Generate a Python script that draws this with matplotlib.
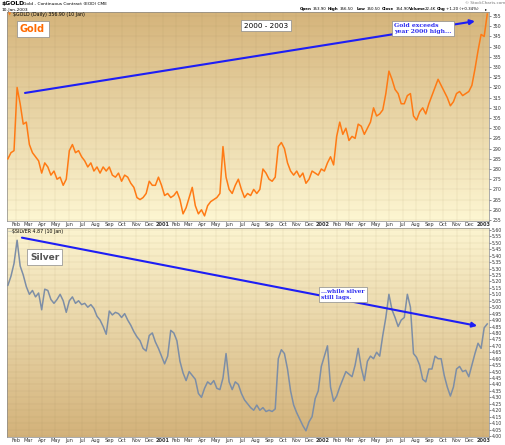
import numpy as np
import pandas as pd
import matplotlib
matplotlib.use('Agg')
import matplotlib.pyplot as plt
from matplotlib.colors import LinearSegmentedColormap

# weekly closes (Fridays, 14 Jan 2000 .. 10 Jan 2003)
weeks = pd.date_range('2000-01-14', '2003-01-10', freq='W-FRI')

gold = [285, 288, 289, 320, 312, 302, 303, 292, 288, 286,
        284, 278, 283, 281, 277, 279, 275, 276, 272, 275,
        289, 292, 288, 289, 286, 284, 281, 283, 279, 281,
        278, 281, 279, 281, 277, 276, 278, 274, 277, 276,
        273, 271, 266, 265, 266, 268, 274, 272, 272, 276,
        272, 267, 268, 266, 267, 269, 265, 258, 261, 266,
        271, 262, 258, 260, 257, 262, 264, 265, 266, 268,
        291, 276, 270, 268, 272, 275, 270, 266, 268, 267,
        270, 268, 270, 280, 278, 275, 274, 276, 291, 293,
        290, 283, 279, 277, 279, 276, 278, 273, 275, 279,
        278, 277, 280, 279, 283, 286, 282, 296, 303, 297,
        300, 294, 296, 295, 302, 301, 297, 300, 303, 310,
        306, 307, 309, 317, 328, 324, 319, 317, 312, 312,
        316, 317, 306, 304, 308, 310, 307, 312, 316, 320,
        324, 321, 318, 315, 311, 313, 317, 318, 316, 317,
        318, 321, 329, 338, 346, 345, 356]

silver = [5.17, 5.24, 5.34, 5.52, 5.32, 5.25, 5.16, 5.10, 5.13, 5.08,
          5.11, 4.98, 5.14, 5.13, 5.06, 5.03, 5.06, 5.10, 5.05, 4.96,
          5.05, 5.08, 5.03, 5.05, 5.02, 5.03, 5.00, 5.02, 4.99, 4.93,
          4.90, 4.85, 4.79, 4.97, 4.94, 4.96, 4.95, 4.92, 4.95, 4.90,
          4.86, 4.81, 4.77, 4.74, 4.68, 4.66, 4.78, 4.80, 4.73, 4.68,
          4.62, 4.56, 4.62, 4.82, 4.80, 4.74, 4.58, 4.49, 4.43, 4.50,
          4.47, 4.44, 4.33, 4.30, 4.37, 4.42, 4.40, 4.43, 4.37, 4.36,
          4.45, 4.64, 4.42, 4.36, 4.42, 4.40, 4.33, 4.28, 4.25, 4.22,
          4.20, 4.24, 4.20, 4.22, 4.19, 4.20, 4.19, 4.21, 4.60, 4.67,
          4.64, 4.52, 4.35, 4.24, 4.18, 4.13, 4.08, 4.04, 4.11, 4.15,
          4.29, 4.35, 4.54, 4.62, 4.70, 4.38, 4.27, 4.31, 4.38, 4.44,
          4.50, 4.48, 4.46, 4.55, 4.68, 4.53, 4.43, 4.58, 4.62, 4.60,
          4.65, 4.62, 4.78, 4.92, 5.10, 4.98, 4.92, 4.85, 4.90, 4.92,
          5.10, 5.00, 4.64, 4.61, 4.55, 4.44, 4.42, 4.52, 4.52, 4.62,
          4.60, 4.60, 4.47, 4.38, 4.31, 4.38, 4.52, 4.54, 4.50, 4.51,
          4.46, 4.55, 4.64, 4.72, 4.68, 4.84, 4.87]

assert len(gold) == len(weeks) == len(silver)

month_ticks = pd.date_range('2000-02-01', '2003-01-01', freq='MS')
month_labels = [str(d.year) if d.month == 1 else d.strftime('%b') for d in month_ticks]
gold_ticks = np.arange(255, 356, 5)
silver_ticks = np.arange(4.00, 5.601, 0.05)

W, H = 506, 445
fig = plt.figure(figsize=(W / 100, H / 100), dpi=100)
fig.patch.set_facecolor('white')


def fpos(x, y):
    return x / W, 1 - y / H


def shade(ax, top, bottom):
    grad = np.linspace(0, 1, 256).reshape(-1, 1)
    cmap = LinearSegmentedColormap.from_list('bg', [top, bottom])
    ax.imshow(grad, cmap=cmap, aspect='auto', extent=[0, 1, 0, 1],
              transform=ax.transAxes, zorder=0, interpolation='bilinear')


def style(ax, yticks, fmt):
    ax.set_xlim(pd.Timestamp('2000-01-12'), pd.Timestamp('2003-01-14'))
    ax.set_xticks(month_ticks, month_labels)
    for lbl, d in zip(ax.get_xticklabels(), month_ticks):
        if d.month == 1:
            lbl.set_fontweight('bold')
    ax.set_yticks(yticks, [fmt % v for v in yticks])
    ax.yaxis.tick_right()
    ax.tick_params(axis='x', length=0, pad=0.6, labelsize=3.6, colors='#333333')
    ax.tick_params(axis='y', length=1.5, width=0.4, pad=0.8, labelsize=3.3,
                   colors='#333333')
    ax.grid(color='#9c8458', alpha=0.22, lw=0.35)
    for s in ax.spines.values():
        s.set_color('#888888')
        s.set_linewidth(0.5)


# --- gold panel
ax1 = fig.add_axes([7 / W, 1 - 221 / H, 482 / W, 209 / H])
ax1.plot(weeks, gold, color='#ff7a14', lw=1.1, zorder=3)
shade(ax1, '#d5b47b', '#fdf6d2')
style(ax1, gold_ticks, '%d')
ax1.set_ylim(254.5, 357)
ax1.annotate('', xy=(pd.Timestamp('2002-12-13'), 352.5),
             xytext=(pd.Timestamp('2000-02-22'), 317.3),
             arrowprops=dict(arrowstyle='-|>', color='#1e1ef5', lw=1.5,
                             mutation_scale=7, shrinkA=0, shrinkB=0), zorder=4)

# --- silver panel
ax2 = fig.add_axes([7 / W, 1 - 437 / H, 482 / W, 209 / H])
ax2.plot(weeks, silver, color='#7d8ea6', lw=1.1, zorder=3)
shade(ax2, '#fcf4d0', '#d3b27a')
style(ax2, silver_ticks, '%.2f')
ax2.set_ylim(3.992, 5.615)
ax2.annotate('', xy=(pd.Timestamp('2002-12-18'), 4.855),
             xytext=(pd.Timestamp('2000-02-15'), 5.54),
             arrowprops=dict(arrowstyle='-|>', color='#1e1ef5', lw=1.5,
                             mutation_scale=7, shrinkA=0, shrinkB=0), zorder=4)

# --- header
fig.text(*fpos(2, 4), '$GOLD', fontsize=4.4, fontweight='bold', va='center')
fig.text(*fpos(23, 4), 'Gold - Continuous Contract (EOD) CME', fontsize=3.2, va='center')
fig.text(*fpos(2, 9.5), '10-Jan-2003', fontsize=3.2, va='center')
fig.text(*fpos(505, 3.5), '\u00a9 StockCharts.com', fontsize=3.0, va='center',
         ha='right', color='#777777')
quote = [(300, 'Open', True), (313, '353.90', False), (328, 'High', True),
         (340, '356.50', False), (357, 'Low', True), (367, '350.50', False),
         (382, 'Close', True), (396, '354.90', False), (409, 'Volume', True),
         (425, '22.4K', False), (437, 'Chg', True), (446, '+1.20 (+0.34%)', False)]
for x, s, b in quote:
    fig.text(*fpos(x, 9.3), s, fontsize=2.9, va='center',
             fontweight='bold' if b else 'normal')
fig.text(*fpos(485, 9.3), '\u25b8', fontsize=3.0, va='center')

fig.text(*fpos(8, 14.7), '\u25bc', fontsize=3, va='center', color='#ff7a14')
fig.text(*fpos(13, 14.7), '$GOLD (Daily) 356.90 (10 Jan)', fontsize=3.4, va='center')
fig.text(*fpos(8, 231.5), '\u2014', fontsize=3.4, va='center', color='#7d8ea6')
fig.text(*fpos(12, 231.5), '$SILVER 4.87 (10 Jan)', fontsize=3.4, va='center')

box = dict(boxstyle='square,pad=0.35', fc='white', ec='#8a8a8a', lw=0.5)
fig.text(*fpos(20, 29), 'Gold', fontsize=7, fontweight='bold', color='#ff6a00',
         va='center', bbox=box)
fig.text(*fpos(266, 25.5), '2000 - 2003', fontsize=5.2, ha='center', va='center',
         bbox=box)
fig.text(*fpos(394, 28.5), 'Gold exceeds\nyear 2000 high...', fontsize=4.4,
         fontweight='bold', color='#2d2df0', va='center', linespacing=1.1, bbox=box,
         family='DejaVu Serif')
fig.text(*fpos(30, 257), 'Silver', fontsize=6.5, fontweight='bold', color='#555555',
         va='center', bbox=box)
fig.text(*fpos(321, 294.5), '...while silver\nstill lags.', fontsize=4.2,
         fontweight='bold', color='#2d2df0', va='center', linespacing=1.1, bbox=box,
         family='DejaVu Serif')

fig.savefig('out.png', dpi=100)
